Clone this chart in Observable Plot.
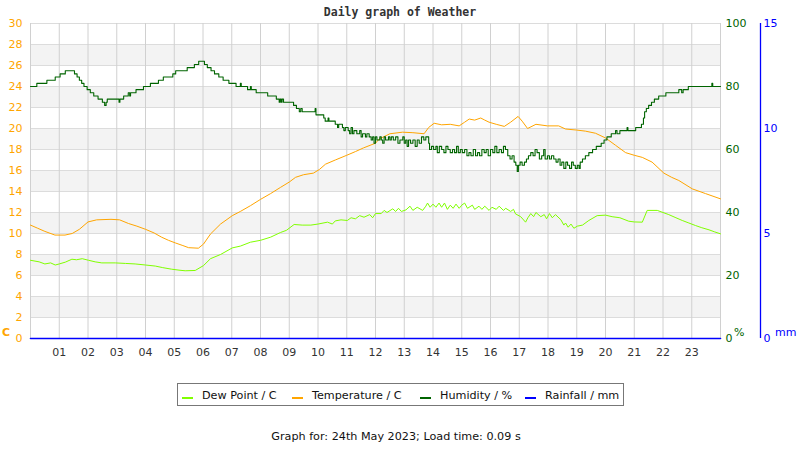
<!DOCTYPE html>
<html>
<head>
<meta charset="utf-8">
<script src="https://cdn.jsdelivr.net/npm/d3@7"></script>
<script src="https://cdn.jsdelivr.net/npm/@observablehq/plot@0.6"></script>
<style>
  html, body { margin: 0; padding: 0; background: #fff; }
  body { width: 800px; height: 450px; position: relative; overflow: hidden; font-family: "DejaVu Sans", sans-serif; }
  #title { position: absolute; left: 0; top: 5px; width: 800px; text-align: center; font-family: "DejaVu Sans Mono", monospace; font-weight: bold; font-size: 11.5px; line-height: 14px; color: #333; }
  #chart { position: absolute; left: 0; top: 0; }
  .unit { position: absolute; font-size: 11px; line-height: 14px; }
  #legend { position: absolute; left: 177px; top: 383px; width: 445px; height: 21px; border: 1px solid #777; }
  .sw { position: absolute; top: 13px; width: 11px; height: 2px; }
  .lt { position: absolute; top: 5px; font-size: 11.2px; line-height: 14px; color: #111; white-space: nowrap; }
  #footer { position: absolute; left: 0; top: 430px; width: 792px; text-align: center; font-size: 11.2px; line-height: 14px; color: #111; }
</style>
</head>
<body>
<div id="chart"></div>
<div id="title"></div>
<div id="legend"></div>
<div id="footer"></div>
<script>
// ---- data ----
const titleText = "Daily graph of Weather";
const footerText = "Graph for: 24th May 2023; Load time: 0.09 s";
const seriesNames = ["Dew Point / C", "Temperature / C", "Humidity / %", "Rainfall / mm"];
const seriesColors = ["#80ff00", "#ffa500", "#006400", "#0000ff"];
const hourTicks = d3.range(1, 24);
const tempTicks = d3.range(0, 31, 2);
const humTicks = [0, 20, 40, 60, 80, 100];
const rainTicks = [0, 5, 10, 15];
const xDomain = [0, 24];

// [hour, value]
const temperature = [[0,10.8],[0.25,10.5],[0.5,10.2],[0.85,9.85],[1.2,9.85],[1.45,10.0],[1.7,10.4],[2.0,11.1],[2.3,11.3],[2.8,11.35],[3.1,11.3],[3.41,10.95],[3.7,10.7],[4.0,10.4],[4.3,10.05],[4.56,9.65],[4.8,9.35],[5.04,9.1],[5.3,8.85],[5.5,8.65],[5.84,8.6],[6.02,9.0],[6.26,9.95],[6.61,10.9],[7.02,11.7],[7.3,12.1],[7.65,12.65],[8.0,13.25],[8.35,13.8],[8.7,14.4],[9.0,14.9],[9.22,15.35],[9.5,15.6],[9.84,15.75],[10.05,16.1],[10.26,16.6],[10.6,17.0],[11.0,17.45],[11.3,17.8],[11.58,18.15],[12.0,18.6],[12.13,19.0],[12.5,19.5],[12.94,19.65],[13.3,19.6],[13.69,19.5],[13.85,20.1],[14.04,20.5],[14.3,20.35],[14.6,20.4],[14.91,20.25],[15.1,20.6],[15.26,20.9],[15.45,20.8],[15.66,21.0],[15.8,20.8],[15.95,20.6],[16.2,20.4],[16.48,20.2],[16.7,20.6],[16.96,21.15],[17.1,20.7],[17.29,20.0],[17.58,20.4],[17.98,20.25],[18.37,20.25],[18.61,19.95],[19.0,19.85],[19.3,19.75],[19.65,19.55],[20.0,19.1],[20.35,18.4],[20.7,17.7],[21.0,17.45],[21.28,17.25],[21.62,16.8],[22.03,15.75],[22.3,15.35],[22.55,15.05],[23.02,14.25],[23.48,13.8],[24,13.3]];

const dewPoint = [[0,7.45],[0.3,7.3],[0.5,7.1],[0.7,7.2],[0.86,7.0],[1.0,7.1],[1.21,7.27],[1.44,7.55],[1.6,7.5],[1.8,7.6],[2.02,7.45],[2.25,7.3],[2.48,7.2],[2.95,7.2],[3.3,7.15],[3.64,7.1],[4.0,7.0],[4.34,6.9],[4.6,6.75],[4.91,6.6],[5.2,6.5],[5.38,6.45],[5.73,6.48],[6.02,6.95],[6.26,7.6],[6.61,8.0],[7.02,8.63],[7.3,8.8],[7.65,9.17],[8.0,9.35],[8.35,9.65],[8.7,10.1],[8.9,10.3],[9.17,10.86],[9.45,10.8],[9.75,10.8],[10.0,10.9],[10.33,11.08],[10.5,10.9],[10.6,11.2],[10.8,11.3],[11.02,11.24],[11.15,11.5],[11.3,11.4],[11.45,11.7],[11.6,11.55],[11.8,11.8],[11.9,11.5],[12.0,11.9],[12.2,11.9],[12.3,12.2],[12.4,12.0],[12.6,12.35],[12.7,12.1],[12.8,12.4],[12.9,12.1],[13.06,12.25],[13.2,12.6],[13.3,12.2],[13.45,12.5],[13.64,12.2],[13.75,12.6],[13.81,12.9],[13.9,12.5],[14.0,12.8],[14.1,12.5],[14.21,12.9],[14.3,12.5],[14.4,12.9],[14.5,12.3],[14.6,12.7],[14.7,12.4],[14.8,12.8],[14.91,12.4],[15.0,12.7],[15.1,12.9],[15.2,12.4],[15.37,12.7],[15.45,12.3],[15.6,12.6],[15.7,12.3],[15.8,12.6],[15.95,12.2],[16.05,12.5],[16.2,12.3],[16.3,12.6],[16.45,12.2],[16.53,12.4],[16.7,12.1],[16.8,12.3],[16.87,11.87],[17.05,11.6],[17.22,11.08],[17.3,11.5],[17.4,11.9],[17.5,11.6],[17.58,12.0],[17.75,11.6],[17.87,11.8],[17.95,11.4],[18.05,11.9],[18.15,11.5],[18.26,11.8],[18.45,11.3],[18.55,10.8],[18.61,11.0],[18.7,10.6],[18.8,10.9],[18.9,10.5],[19.02,10.7],[19.2,10.8],[19.42,11.24],[19.71,11.7],[20.0,11.75],[20.23,11.6],[20.5,11.5],[20.81,11.17],[21.0,11.1],[21.28,11.08],[21.45,12.2],[21.8,12.2],[22.0,12.0],[22.2,11.8],[22.45,11.5],[22.67,11.24],[22.9,11.0],[23.13,10.76],[23.35,10.55],[23.6,10.35],[23.8,10.15],[24,9.97]];

const humidity = [[0,80],[0.22,81],[0.57,82],[0.86,83],[1.03,84],[1.21,85],[1.53,84],[1.62,83],[1.7,82],[1.78,81],[1.86,80],[1.97,79],[2.08,78],[2.2,77],[2.35,76],[2.5,75],[2.58,74],[2.63,75],[2.67,76],[3.08,75],[3.11,76],[3.24,77],[3.4,78],[3.45,77],[3.48,78],[3.67,79],[3.93,80],[4.17,81],[4.45,82],[4.62,83],[4.95,84],[5.05,85],[5.45,86],[5.7,87],[5.85,88],[6.05,87],[6.15,86],[6.28,85],[6.4,84],[6.55,83],[6.7,82],[6.9,81],[7.15,80],[7.3,81],[7.33,80],[7.55,79],[7.65,80],[7.68,79],[7.85,78],[8.25,77],[8.55,76],[8.65,75],[8.68,76],[8.72,75],[8.75,76],[8.8,75],[9.15,74],[9.25,73],[9.35,72],[9.4,73],[9.45,72],[9.9,73],[9.93,71],[10.2,70],[10.25,69],[10.35,70],[10.38,69],[10.6,68],[10.68,67],[10.72,68],[10.85,67],[10.9,66],[10.95,67],[11.05,66],[11.1,65],[11.15,67],[11.2,65],[11.25,66],[11.35,65],[11.45,66],[11.5,64],[11.55,65],[11.65,64],[11.7,65],[11.78,64],[11.85,63],[11.9,64],[11.95,62],[12.0,64],[12.05,63],[12.15,64],[12.2,63],[12.25,62],[12.3,64],[12.35,63],[12.45,64],[12.5,63],[12.55,64],[12.62,63],[12.7,64],[12.78,62],[12.85,63],[12.95,64],[13.0,62],[13.05,63],[13.1,61],[13.15,63],[13.22,62],[13.3,63],[13.38,61],[13.45,63],[13.52,62],[13.6,64],[13.68,63],[13.75,64],[13.85,62],[13.88,60],[13.95,61],[14.02,60],[14.1,61],[14.15,59],[14.22,61],[14.3,60],[14.38,59],[14.45,61],[14.52,60],[14.6,59],[14.68,60],[14.75,59],[14.82,61],[14.88,59],[14.95,60],[15.02,59],[15.1,60],[15.18,58],[15.25,59],[15.32,58],[15.4,60],[15.48,58],[15.55,59],[15.62,58],[15.7,60],[15.78,59],[15.85,60],[15.92,58],[16.0,60],[16.08,59],[16.15,61],[16.22,59],[16.3,60],[16.38,59],[16.45,61],[16.52,60],[16.6,58],[16.68,57],[16.75,58],[16.82,56],[16.88,55],[16.93,53],[16.97,55],[17.03,56],[17.1,55],[17.18,56],[17.25,57],[17.32,58],[17.4,59],[17.48,58],[17.55,60],[17.62,59],[17.7,57],[17.78,58],[17.85,60],[17.9,57],[17.98,58],[18.05,57],[18.12,58],[18.2,57],[18.28,56],[18.35,57],[18.42,55],[18.48,56],[18.55,54],[18.62,56],[18.68,55],[18.75,54],[18.82,56],[18.88,55],[18.95,54],[19.02,55],[19.08,54],[19.12,56],[19.2,57],[19.3,58],[19.42,59],[19.55,60],[19.68,61],[19.85,62],[19.95,63],[20.05,64],[20.2,65],[20.35,66],[20.4,65],[20.5,66],[20.75,67],[20.78,66],[21.05,67],[21.25,68],[21.32,70],[21.36,72],[21.42,73],[21.5,74],[21.6,75],[21.7,76],[21.85,77],[22.1,78],[22.55,79],[22.65,78],[22.7,79],[22.88,80],[23.7,81],[23.73,80],[24,80]];

const rainfall = [[0,0],[24,0]];

// ---- scale helpers (humidity 0-100 and rain 0-15 share the 0-30 axis) ----
const humToY = h => h * 0.3;
const rainToY = r => r * 2;

const stripeStarts = d3.range(2, 30, 4);

const chart = Plot.plot({
  width: 800,
  height: 365,
  marginTop: 23,
  marginLeft: 30,
  marginRight: 80,
  marginBottom: 27,
  x: { domain: xDomain },
  y: { domain: [0, 30] },
  style: { fontFamily: "DejaVu Sans, sans-serif", fontSize: "11px", background: "transparent", overflow: "visible" },
  marks: [
    Plot.rect(stripeStarts, { x1: () => xDomain[0], x2: () => xDomain[1], y1: d => d, y2: d => d + 2, fill: "#f3f3f3" }),
    Plot.gridY({ ticks: tempTicks, stroke: "#dcdcdc", strokeOpacity: 1 }),
    Plot.gridX({ ticks: d3.range(0, 25), stroke: "#d0d0d0", strokeOpacity: 1 }),
    Plot.line(dewPoint, { x: d => d[0], y: d => d[1], stroke: seriesColors[0], strokeWidth: 1 }),
    Plot.line(temperature, { x: d => d[0], y: d => d[1], stroke: seriesColors[1], strokeWidth: 1 }),
    Plot.line(humidity, { x: d => d[0], y: d => humToY(d[1]), stroke: seriesColors[2], strokeWidth: 1.1, curve: "step-after" }),
    Plot.line(rainfall, { x: d => d[0], y: d => rainToY(d[1]), stroke: seriesColors[3], strokeWidth: 1.6 }),
    Plot.axisX({ ticks: hourTicks, tickFormat: d3.format("02d"), tickSize: 0, tickPadding: 10, fill: "#333", label: null }),
    Plot.axisY({ anchor: "left", ticks: tempTicks, tickSize: 0, tickPadding: 8, fill: "#ffa500", label: null }),
    Plot.axisY({ anchor: "right", ticks: humTicks.map(humToY), tickFormat: d => Math.round(d / 0.3), tickSize: 0, tickPadding: 5, fill: "#006400", label: null }),
    Plot.ruleX([xDomain[1]], { dx: 40, stroke: "#0000ff", strokeWidth: 1.3 }),
    Plot.axisY({ anchor: "right", ticks: rainTicks.map(rainToY), tickFormat: d => d / 2, tickSize: 0, tickPadding: 3, dx: 40, fill: "#0000ff", label: null })
  ]
});
document.getElementById("chart").appendChild(chart);

document.getElementById("title").textContent = titleText;
document.getElementById("footer").textContent = footerText;

// unit labels
const units = [
  { t: "C", left: 2, top: 326, color: "#ffa500", bold: true },
  { t: "%", left: 734, top: 326, color: "#006400", bold: false },
  { t: "mm", left: 775, top: 326, color: "#0000ff", bold: false }
];
units.forEach(u => {
  const s = document.createElement("span");
  s.className = "unit";
  s.textContent = u.t;
  s.style.left = u.left + "px";
  s.style.top = u.top + "px";
  s.style.color = u.color;
  if (u.bold) s.style.fontWeight = "bold";
  document.body.appendChild(s);
});

// legend
const legend = document.getElementById("legend");
const swLeft = [4, 114, 242, 347];
const txLeft = [24, 134, 262, 367];
seriesNames.forEach((name, i) => {
  const sw = document.createElement("div");
  sw.className = "sw";
  sw.style.left = swLeft[i] + "px";
  sw.style.background = seriesColors[i];
  legend.appendChild(sw);
  const t = document.createElement("div");
  t.className = "lt";
  t.style.left = txLeft[i] + "px";
  t.textContent = name;
  legend.appendChild(t);
});
</script>
</body>
</html>
